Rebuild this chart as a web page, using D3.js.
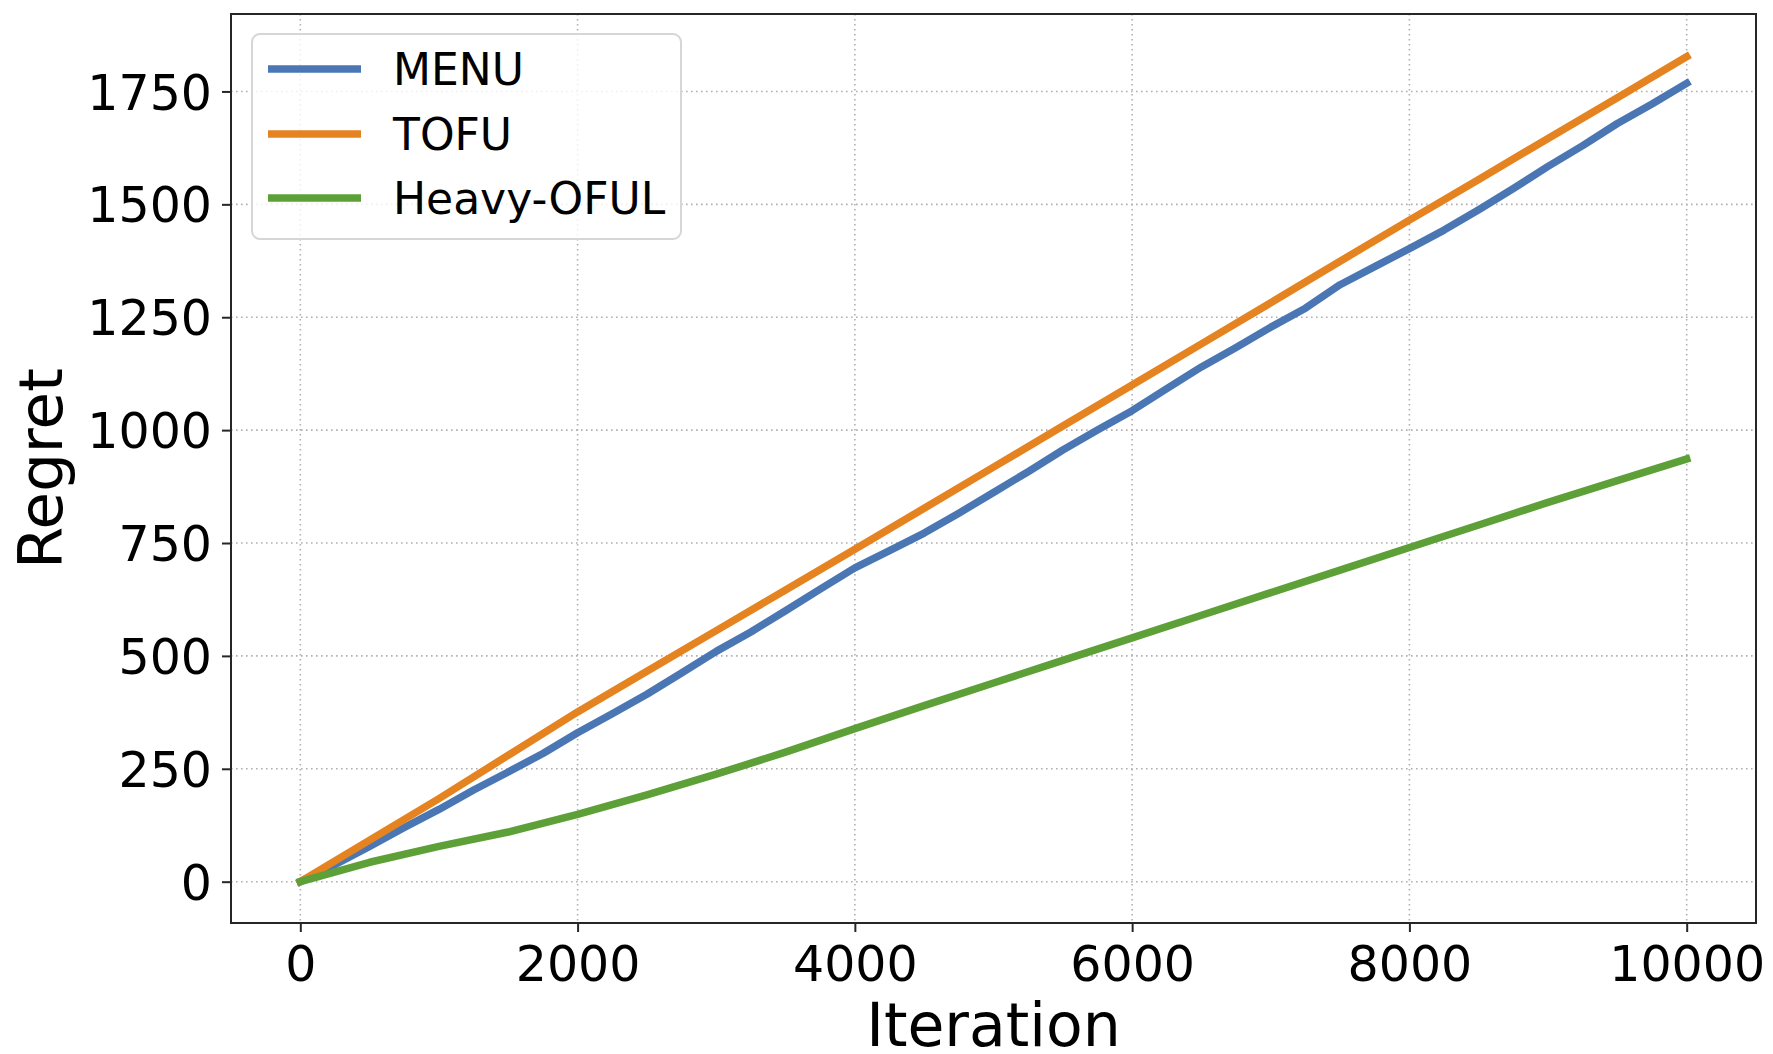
<!DOCTYPE html>
<html>
<head>
<meta charset="utf-8">
<script src="https://cdn.jsdelivr.net/npm/d3@7"></script>
<style>
  html, body { margin: 0; padding: 0; background: #ffffff; }
  svg { display: block; }
  text { font-family: "DejaVu Sans", sans-serif; fill: #000; }
</style>
</head>
<body>
<svg id="chart" width="1773" height="1054"></svg>
<script>
// ---- data ----
const menuIterations = [0,250,500,750,1000,1250,1500,1750,2000,2250,2500,2750,3000,3250,3500,3750,4000,4250,4500,4750,5000,5250,5500,5750,6000,6250,6500,6750,7000,7250,7500,7750,8000,8250,8500,8750,9000,9250,9500,9750,10000];
const menuRegret = [0,38,78,120,160,203,243,284,330,372,415,462,510,553,600,648,695,733,772,816,862,908,956,1000,1043,1092,1140,1183,1228,1270,1322,1362,1402,1443,1488,1535,1584,1630,1679,1722,1768];
const iterations = [0,500,1000,1500,2000,2500,3000,3500,4000,4500,5000,5500,6000,6500,7000,7500,8000,8500,9000,9500,10000];
const tofuRegret = [0,92,184,280,376,466,556,646,736,827,918,1009,1100,1191,1282,1374,1465,1555,1646,1736,1827];
const heavyOfulRegret = [0,43,78,110,149,192,238,287,339,390,440,490,540,590,640,690,740,790,840,888,936];
const seriesNames = ["MENU", "TOFU", "Heavy-OFUL"];
const seriesColors = ["#4a77b4", "#e58320", "#5ea038"];
const xTicks = [0,2000,4000,6000,8000,10000];
const yTicks = [0,250,500,750,1000,1250,1500,1750];
const xLabel = "Iteration";
const yLabel = "Regret";

const seriesData = [
  menuIterations.map((it, i) => [it, menuRegret[i]]),
  iterations.map((it, i) => [it, tofuRegret[i]]),
  iterations.map((it, i) => [it, heavyOfulRegret[i]])
];

// ---- layout ----
const svg = d3.select("#chart");
const L = 231, R = 1756, T = 14, B = 923;
const x = d3.scaleLinear().domain([-500, 10500]).range([L, R]);
const y = d3.scaleLinear().domain([-91.5, 1921.5]).range([B, T]);

// grid
const grid = svg.append("g");
grid.selectAll("line.gx").data(xTicks).enter().append("line")
  .attr("x1", d => x(d)).attr("x2", d => x(d)).attr("y1", T).attr("y2", B)
  .attr("stroke", "#b0b0b0").attr("stroke-width", 1.6).attr("stroke-dasharray", "1.6,3.4");
grid.selectAll("line.gy").data(yTicks).enter().append("line")
  .attr("x1", L).attr("x2", R).attr("y1", d => y(d)).attr("y2", d => y(d))
  .attr("stroke", "#b0b0b0").attr("stroke-width", 1.6).attr("stroke-dasharray", "1.6,3.4");

// lines
const lineGen = d3.line().x(d => x(d[0])).y(d => y(d[1]));
svg.append("clipPath").attr("id", "clip").append("rect")
  .attr("x", L).attr("y", T).attr("width", R - L).attr("height", B - T);
svg.append("g").attr("clip-path", "url(#clip)")
  .selectAll("path").data(seriesData).enter().append("path")
  .attr("d", d => lineGen(d))
  .attr("fill", "none")
  .attr("stroke", (d, i) => seriesColors[i])
  .attr("stroke-width", 7.5)
  .attr("stroke-linejoin", "round")
  .attr("stroke-linecap", "square");

// axes
const xAxis = d3.axisBottom(x).tickValues(xTicks).tickFormat(d3.format("d")).tickSizeOuter(0).tickSize(9).tickPadding(10);
const yAxis = d3.axisLeft(y).tickValues(yTicks).tickFormat(d3.format("d")).tickSizeOuter(0).tickSize(9).tickPadding(10);
const gx = svg.append("g").attr("transform", `translate(0,${B})`).call(xAxis);
const gy = svg.append("g").attr("transform", `translate(${L},0)`).call(yAxis);
[gx, gy].forEach(g => {
  g.select(".domain").remove();
  g.selectAll(".tick line").attr("stroke", "#262626").attr("stroke-width", 2);
  g.selectAll(".tick text").attr("font-size", 49).attr("font-family", "DejaVu Sans").attr("fill", "#000");
});
gx.selectAll(".tick text").attr("dy", null).attr("y", 58);
gy.selectAll(".tick text").attr("dy", "0.36em").attr("x", -19);

// frame
svg.append("rect").attr("x", L).attr("y", T).attr("width", R - L).attr("height", B - T)
  .attr("fill", "none").attr("stroke", "#262626").attr("stroke-width", 2);

// axis labels
svg.append("text").attr("x", (L + R) / 2).attr("y", 1046)
  .attr("text-anchor", "middle").attr("font-size", 60).text(xLabel);
svg.append("text").attr("transform", `translate(62,${(T + B) / 2}) rotate(-90)`)
  .attr("text-anchor", "middle").attr("font-size", 61).text(yLabel);

// legend
const lg = svg.append("g");
lg.append("rect").attr("x", 252).attr("y", 34).attr("width", 429).attr("height", 205)
  .attr("rx", 8).attr("ry", 8)
  .attr("fill", "#ffffff").attr("fill-opacity", 0.8)
  .attr("stroke", "#d6d6d6").attr("stroke-width", 2);
const legendY = [69, 134, 198];
seriesNames.forEach((name, i) => {
  lg.append("line").attr("x1", 268).attr("x2", 361).attr("y1", legendY[i]).attr("y2", legendY[i])
    .attr("stroke", seriesColors[i]).attr("stroke-width", 7.5);
  lg.append("text").attr("x", 393).attr("y", legendY[i]).attr("dy", "0.36em")
    .attr("font-size", 44).text(name);
});
</script>
</body>
</html>
